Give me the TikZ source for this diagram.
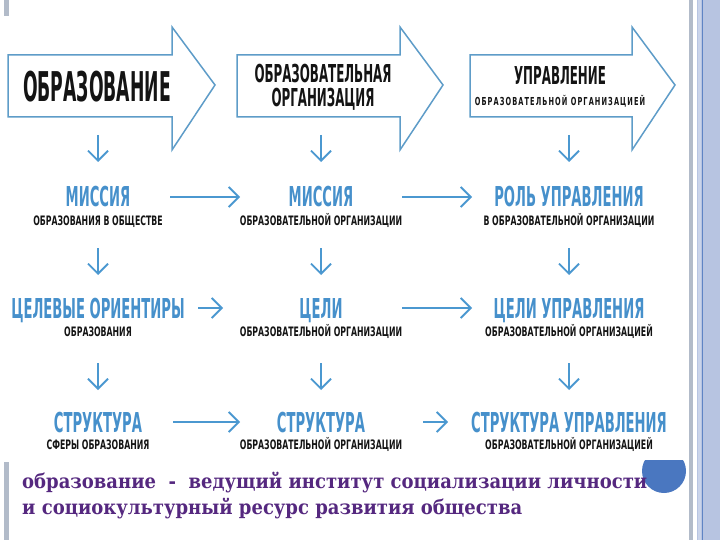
\documentclass[tikz,border=0pt]{standalone}
\usepackage{fontspec}
\setmainfont[FakeStretch=0.9]{DejaVu Serif}
\newfontfamily\headfont[FakeStretch=0.42]{DejaVu Sans}
\newfontfamily\capfont[FakeStretch=0.48]{DejaVu Sans}
\newfontfamily\subfont[FakeStretch=0.6]{DejaVu Sans}
\usepackage{tikz}
\usetikzlibrary{arrows.meta, positioning}
\definecolor{ink}{HTML}{141414}
\definecolor{arrowline}{HTML}{5E9CC8}
\definecolor{titleblue}{HTML}{4690CB}
\definecolor{flowblue}{HTML}{4B98D0}
\definecolor{thesisviolet}{HTML}{55287F}
\definecolor{bargray}{HTML}{B2BBC9}
\definecolor{barblue}{HTML}{B7C4E1}
\definecolor{barpale}{HTML}{CAD4EA}
\definecolor{barline}{HTML}{5F84C4}
\definecolor{dotblue}{HTML}{4A77C0}
\tikzset{
  bigarrow/.style = {draw=arrowline, line width=1.5pt, line join=miter, fill=white},
  headtxt/.style  = {font=\headfont\bfseries\fontsize{41}{41}\selectfont, text=ink,
                     inner sep=0pt, text height=30pt, text depth=0pt},
  orgtxt/.style   = {font=\capfont\bfseries\fontsize{24.7}{24}\selectfont, text=ink,
                     inner sep=0pt, align=center},
  mgmttxt/.style  = {font=\capfont\bfseries\fontsize{24.7}{24}\selectfont, text=ink,
                     inner sep=0pt, text height=18pt, text depth=0pt},
  lead/.style     = {font=\capfont\bfseries\fontsize{27.4}{27.4}\selectfont, text=titleblue,
                     inner sep=0pt, text height=20pt, text depth=0pt},
  sub/.style      = {font=\subfont\bfseries\fontsize{13}{13}\selectfont, text=ink,
                     inner sep=0pt, text height=9.5pt, text depth=0pt},
  flow/.style     = {-{Straight Barb[length=10pt, width=20pt]}, draw=flowblue, line width=1.8pt},
  thesis/.style   = {font=\bfseries\fontsize{20}{24}\selectfont, text=thesisviolet, inner sep=0pt, anchor=base west},
}

\begin{document}
\begin{tikzpicture}[x=1pt, y=-1pt]
  \useasboundingbox (0,0) rectangle (720,540);

  % slide frame
  \fill[bargray] (4,0) rectangle (9,16);
  \fill[bargray] (4,462) rectangle (9,540);
  \fill[bargray] (689,0) rectangle (693,540);
  \fill[barblue] (697,0) rectangle (720,540);
  \fill[barpale] (698,0) rectangle (701,540);
  \draw[barline, line width=1pt] (702,0) -- (702,540);

  % three big arrows
  \foreach \l/\r in {8/172, 237/400, 470/632}
    \draw[bigarrow] (\l,55) -- (\r,55) -- (\r,27) -- ({\r+43},85) -- (\r,150) -- (\r,117) -- (\l,117) -- cycle;

  \node[headtxt] (edu) at (97,87) {ОБРАЗОВАНИЕ};
  \node[orgtxt] (org) at (323,87) {ОБРАЗОВАТЕЛЬНАЯ\\ОРГАНИЗАЦИЯ};
  \node[mgmttxt] (mgmt) at (560,76) {УПРАВЛЕНИЕ};
  \node[sub, font=\subfont\bfseries\fontsize{11}{11}\selectfont\addfontfeature{LetterSpace=10},
        text height=8pt, below=12pt of mgmt] (mgmtsub) {ОБРАЗОВАТЕЛЬНОЙ ОРГАНИЗАЦИЕЙ};

  % row 1
  \node[lead] (mis1) at (98,197) {МИССИЯ};
  \node[sub, below=9pt of mis1] (mis1s) {ОБРАЗОВАНИЯ В ОБЩЕСТВЕ};
  \node[lead] (mis2) at (321,197) {МИССИЯ};
  \node[sub, below=9pt of mis2] (mis2s) {ОБРАЗОВАТЕЛЬНОЙ ОРГАНИЗАЦИИ};
  \node[lead] (rol3) at (569,197) {РОЛЬ УПРАВЛЕНИЯ};
  \node[sub, below=9pt of rol3] (rol3s) {В ОБРАЗОВАТЕЛЬНОЙ ОРГАНИЗАЦИИ};

  % row 2
  \node[lead] (goal1) at (98,308) {ЦЕЛЕВЫЕ ОРИЕНТИРЫ};
  \node[sub, below=9pt of goal1] (goal1s) {ОБРАЗОВАНИЯ};
  \node[lead] (goal2) at (321,308) {ЦЕЛИ};
  \node[sub, below=9pt of goal2] (goal2s) {ОБРАЗОВАТЕЛЬНОЙ ОРГАНИЗАЦИИ};
  \node[lead] (goal3) at (569,308) {ЦЕЛИ УПРАВЛЕНИЯ};
  \node[sub, below=9pt of goal3] (goal3s) {ОБРАЗОВАТЕЛЬНОЙ ОРГАНИЗАЦИЕЙ};

  % row 3
  \node[lead] (str1) at (98,422) {СТРУКТУРА};
  \node[sub, below=8pt of str1] (str1s) {СФЕРЫ ОБРАЗОВАНИЯ};
  \node[lead] (str2) at (321,422) {СТРУКТУРА};
  \node[sub, below=8pt of str2] (str2s) {ОБРАЗОВАТЕЛЬНОЙ ОРГАНИЗАЦИИ};
  \node[lead] (str3) at (569,422) {СТРУКТУРА УПРАВЛЕНИЯ};
  \node[sub, below=8pt of str3] (str3s) {ОБРАЗОВАТЕЛЬНОЙ ОРГАНИЗАЦИЕЙ};

  % down arrows
  \draw[flow, shorten <=48pt, shorten >=35pt] (edu.center -| mis1.center) -- (mis1.center);
  \draw[flow, shorten <=48pt, shorten >=35pt] (org.center -| mis2.center) -- (mis2.center);
  \draw[flow, shorten <=59pt, shorten >=35pt] (mgmt.center -| rol3.center) -- (rol3.center);
  \draw[flow, shorten <=27pt, shorten >=33pt] (mis1s.center) -- (goal1.center);
  \draw[flow, shorten <=27pt, shorten >=33pt] (mis2s.center) -- (goal2.center);
  \draw[flow, shorten <=27pt, shorten >=33pt] (rol3s.center) -- (goal3.center);
  \draw[flow, shorten <=31pt, shorten >=32pt] (goal1s.center) -- (str1.center);
  \draw[flow, shorten <=31pt, shorten >=32pt] (goal2s.center) -- (str2.center);
  \draw[flow, shorten <=31pt, shorten >=32pt] (goal3s.center) -- (str3.center);

  % across arrows
  \draw[flow, shorten <=72pt, shorten >=81pt] (mis1.center) -- (mis2.center);
  \draw[flow, shorten <=81pt, shorten >=97pt] (mis2.center) -- (rol3.center);
  \draw[flow, shorten <=100pt, shorten >=98pt] (goal1.center) -- (goal2.center);
  \draw[flow, shorten <=81pt, shorten >=97pt] (goal2.center) -- (goal3.center);
  \draw[flow, shorten <=75pt, shorten >=81pt] (str1.center) -- (str2.center);
  \draw[flow, shorten <=102pt, shorten >=121pt] (str2.center) -- (str3.center);

  % closing statement
  \begin{scope}
    \clip (630,460) rectangle (690,500);
    \fill[dotblue] (664,471) circle (22);
  \end{scope}
  \node[thesis] (thesis1) at (22,488) {образование~~-~~ведущий институт социализации личности};
  \node[thesis] (thesis2) at (22,514) {и социокультурный ресурс развития общества};
\end{tikzpicture}
\end{document}
